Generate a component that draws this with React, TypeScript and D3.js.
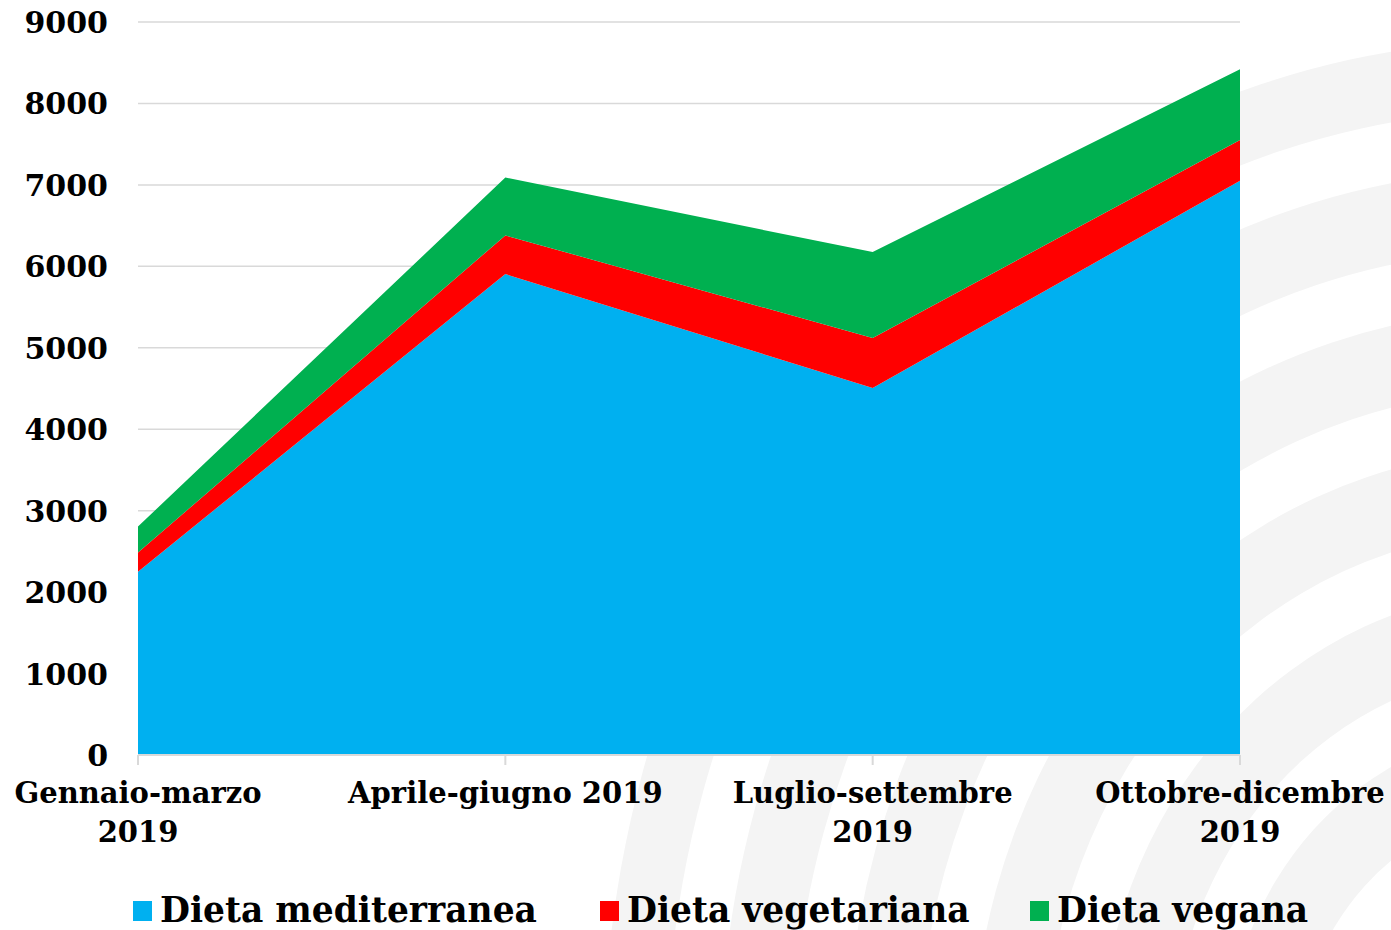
import React, { useEffect, useRef } from 'react';
import * as d3 from 'd3';

const categories = ['Gennaio-marzo 2019', 'Aprile-giugno 2019', 'Luglio-settembre 2019', 'Ottobre-dicembre 2019'];
const categoryLines = [['Gennaio-marzo', '2019'], ['Aprile-giugno 2019'], ['Luglio-settembre', '2019'], ['Ottobre-dicembre', '2019']];
const seriesNames = ['Dieta mediterranea', 'Dieta vegetariana', 'Dieta vegana'];
const mediterranea = [2250, 5905, 4505, 7050];
const vegetariana = [235, 475, 615, 500];
const vegana = [320, 710, 1055, 870];
const yTicks = [0, 1000, 2000, 3000, 4000, 5000, 6000, 7000, 8000, 9000];

const colors = ['#00B0F0', '#FF0000', '#00B050'];
const FONT = "'DejaVu Serif', serif";

export default function App() {
  const svgRef = useRef<SVGSVGElement>(null);

  useEffect(() => {
    const width = 1391;
    const height = 930;
    const margin = { top: 22, right: 151, bottom: 175, left: 138 };

    d3.select(svgRef.current).selectAll('*').remove();
    const svg = d3.select(svgRef.current)
      .attr('width', width)
      .attr('height', height)
      .style('display', 'block');

    // faint watermark arcs in the background
    const wm = svg.append('g');
    const arc = d3.arc();
    const bands = [[960, 1030], [820, 900], [680, 760], [540, 620], [400, 480], [260, 340]];
    bands.forEach(([r0, r1]) => {
      wm.append('path')
        .attr('transform', 'translate(1530,1070) scale(0.9,1)')
        .attr('d', arc({ innerRadius: r0, outerRadius: r1, startAngle: -Math.PI / 2, endAngle: 0 }) as string)
        .attr('fill', '#f4f4f4');
    });

    const x = d3.scalePoint<number>()
      .domain(d3.range(categories.length))
      .range([margin.left, width - margin.right]);

    const y = d3.scaleLinear()
      .domain([0, 9000])
      .range([height - margin.bottom, margin.top]);

    // plot area background is white
    svg.append('rect')
      .attr('x', margin.left)
      .attr('y', 0)
      .attr('width', width - margin.right - margin.left)
      .attr('height', y(0))
      .attr('fill', '#fff');

    // gridlines
    svg.append('g')
      .selectAll('line')
      .data(yTicks.slice(1))
      .enter()
      .append('line')
      .attr('x1', margin.left)
      .attr('x2', width - margin.right)
      .attr('y1', d => y(d))
      .attr('y2', d => y(d))
      .attr('stroke', '#d9d9d9')
      .attr('stroke-width', 1.5);

    // stacked areas
    const rows = categories.map((c, i) => ({ i, m: mediterranea[i], v: vegetariana[i], g: vegana[i] }));
    const stack = d3.stack<any>().keys(['m', 'v', 'g']);
    const layers = stack(rows);

    const area = d3.area<any>()
      .x(d => x(d.data.i) as number)
      .y0(d => y(d[0]))
      .y1(d => y(d[1]));

    svg.append('g')
      .selectAll('path')
      .data(layers)
      .enter()
      .append('path')
      .attr('d', d => area(d) as string)
      .attr('fill', (d, i) => colors[i]);

    // x axis line and ticks
    svg.append('line')
      .attr('x1', margin.left)
      .attr('x2', width - margin.right)
      .attr('y1', y(0))
      .attr('y2', y(0))
      .attr('stroke', '#d9d9d9')
      .attr('stroke-width', 2);

    svg.append('g')
      .selectAll('line')
      .data(d3.range(categories.length))
      .enter()
      .append('line')
      .attr('x1', d => x(d) as number)
      .attr('x2', d => x(d) as number)
      .attr('y1', y(0))
      .attr('y2', y(0) + 10)
      .attr('stroke', '#d9d9d9')
      .attr('stroke-width', 2);

    // y tick labels
    svg.append('g')
      .selectAll('text')
      .data(yTicks)
      .enter()
      .append('text')
      .attr('x', 108)
      .attr('y', d => y(d) + 11)
      .attr('text-anchor', 'end')
      .attr('font-family', FONT)
      .attr('font-weight', 'bold')
      .attr('font-size', 30)
      .attr('fill', '#000')
      .text(d => d);

    // x labels
    const xl = svg.append('g');
    categoryLines.forEach((lines, i) => {
      lines.forEach((line, j) => {
        xl.append('text')
          .attr('x', x(i) as number)
          .attr('y', 803 + j * 39)
          .attr('text-anchor', 'middle')
          .attr('font-family', FONT)
          .attr('font-weight', 'bold')
          .attr('font-size', 29)
          .attr('fill', '#000')
          .text(line);
      });
    });

    // legend
    const legendX = [133, 600, 1030];
    const legend = svg.append('g');
    seriesNames.forEach((name, i) => {
      legend.append('rect')
        .attr('x', legendX[i])
        .attr('y', 901)
        .attr('width', 19)
        .attr('height', 20)
        .attr('fill', colors[i]);
      legend.append('text')
        .attr('x', legendX[i] + 27)
        .attr('y', 922)
        .attr('font-family', FONT)
        .attr('font-weight', 'bold')
        .attr('font-size', 34.5)
        .attr('fill', '#000')
        .text(name);
    });
  }, []);

  return (
    <div style={{ position: 'absolute', left: 0, top: 0 }}>
      <svg ref={svgRef}></svg>
    </div>
  );
}
